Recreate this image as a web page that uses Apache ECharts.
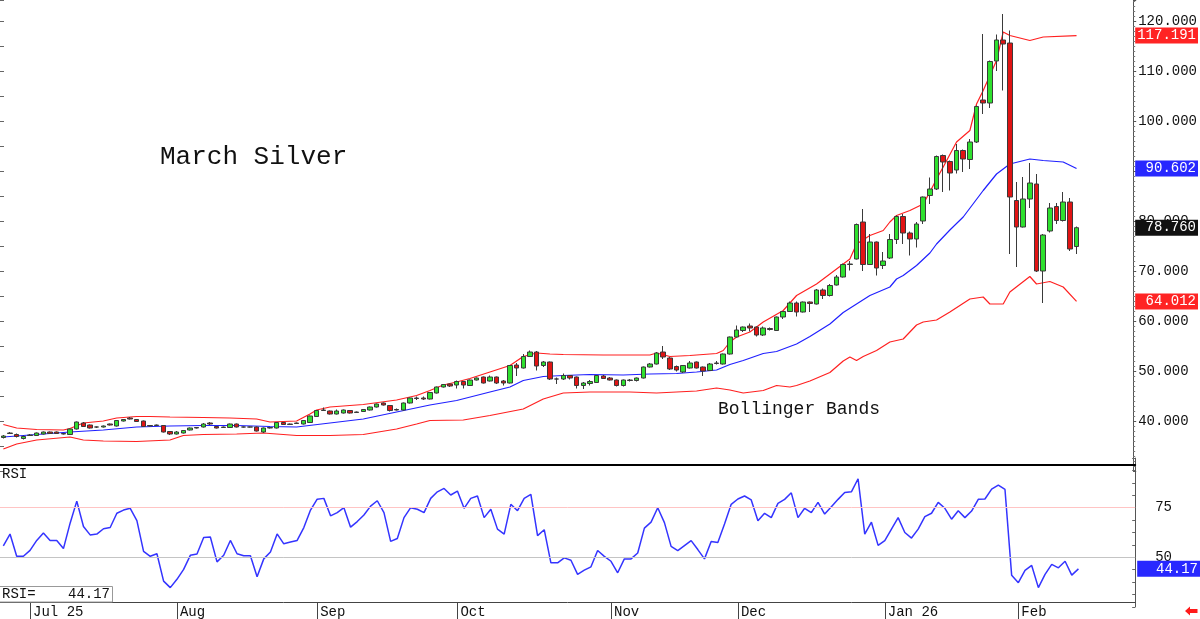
<!DOCTYPE html>
<html>
<head>
<meta charset="utf-8">
<script src="https://cdn.jsdelivr.net/npm/echarts@6/dist/echarts.min.js"></script>
<style>
html,body{margin:0;padding:0;background:#fff;}
#chart{width:1200px;height:619px;}
</style>
</head>
<body>
<div id="chart"></div>
<script>
// ---- categories (trading days) ----
const tradingDays = [
 '2025-06-25','2025-06-26','2025-06-27','2025-06-30',
 '2025-07-01','2025-07-02','2025-07-03','2025-07-07','2025-07-08','2025-07-09','2025-07-10','2025-07-11',
 '2025-07-14','2025-07-15','2025-07-16','2025-07-17','2025-07-18','2025-07-21','2025-07-22','2025-07-23',
 '2025-07-24','2025-07-25','2025-07-28','2025-07-29','2025-07-30','2025-07-31',
 '2025-08-01','2025-08-04','2025-08-05','2025-08-06','2025-08-07','2025-08-08','2025-08-11','2025-08-12',
 '2025-08-13','2025-08-14','2025-08-15','2025-08-18','2025-08-19','2025-08-20','2025-08-21','2025-08-22',
 '2025-08-25','2025-08-26','2025-08-27','2025-08-28','2025-08-29',
 '2025-09-02','2025-09-03','2025-09-04','2025-09-05','2025-09-08','2025-09-09','2025-09-10','2025-09-11',
 '2025-09-12','2025-09-15','2025-09-16','2025-09-17','2025-09-18','2025-09-19','2025-09-22','2025-09-23',
 '2025-09-24','2025-09-25','2025-09-26','2025-09-29','2025-09-30',
 '2025-10-01','2025-10-02','2025-10-03','2025-10-06','2025-10-07','2025-10-08','2025-10-09','2025-10-10',
 '2025-10-13','2025-10-14','2025-10-15','2025-10-16','2025-10-17','2025-10-20','2025-10-21','2025-10-22',
 '2025-10-23','2025-10-24','2025-10-27','2025-10-28','2025-10-29','2025-10-30','2025-10-31',
 '2025-11-03','2025-11-04','2025-11-05','2025-11-06','2025-11-07','2025-11-10','2025-11-11','2025-11-12',
 '2025-11-13','2025-11-14','2025-11-17','2025-11-18','2025-11-19','2025-11-20','2025-11-21','2025-11-24',
 '2025-11-25','2025-11-26','2025-11-28',
 '2025-12-01','2025-12-02','2025-12-03','2025-12-04','2025-12-05','2025-12-08','2025-12-09','2025-12-10',
 '2025-12-11','2025-12-12','2025-12-15','2025-12-16','2025-12-17','2025-12-18','2025-12-19','2025-12-22',
 '2025-12-23','2025-12-24','2025-12-26','2025-12-29','2025-12-30','2025-12-31',
 '2026-01-02','2026-01-05','2026-01-06','2026-01-07','2026-01-08','2026-01-09','2026-01-12','2026-01-13',
 '2026-01-14','2026-01-15','2026-01-16','2026-01-20','2026-01-21','2026-01-22','2026-01-23','2026-01-26',
 '2026-01-27','2026-01-28','2026-01-29','2026-01-30',
 '2026-02-02','2026-02-03','2026-02-04','2026-02-05','2026-02-06','2026-02-09','2026-02-10','2026-02-11',
 '2026-02-12','2026-02-13'
];
const emptySlots = ['2026-02-17','2026-02-18','2026-02-19','2026-02-20','2026-02-23','2026-02-24','2026-02-25','2026-02-26'];
const categories = tradingDays.concat(emptySlots);

// ---- month tick labels ----
const tickDates  = ['2025-07-01','2025-08-01','2025-09-02','2025-10-01','2025-11-03','2025-12-01','2026-01-02','2026-02-02'];
const tickLabels = ['Jul 25','Aug','Sep','Oct','Nov','Dec','Jan 26','Feb'];

// ---- candles: [open, close, low, high] ----
const candles = [
 [36.8,37.1,36.6,37.3],[37.6,37.7,37.5,37.9],[37.4,37.0,36.8,37.6],[36.6,37.0,36.4,37.2],
 [37.2,37.3,37.1,37.5],[37.2,37.7,37.1,37.8],[37.5,37.9,37.4,38.0],[37.9,37.6,37.5,38.0],
 [37.9,37.6,37.5,38.0],[37.6,37.5,37.4,37.7],[37.4,38.5,37.3,38.6],[38.5,39.9,38.4,40.0],
 [39.7,39.0,38.9,39.9],[39.3,38.7,38.6,39.4],[38.9,38.9,38.7,39.0],[38.9,39.1,38.8,39.2],
 [39.5,39.3,39.2,39.6],[39.1,40.2,39.0,40.3],[40.1,40.4,40.0,40.5],[40.7,40.5,40.4,40.9],
 [40.4,40.0,39.9,40.5],[40.1,39.0,38.9,40.2],[39.2,39.1,39.0,39.3],[39.2,39.3,39.1,39.4],
 [39.2,37.9,37.8,39.3],[38.0,37.5,37.3,38.1],[37.5,37.9,37.4,38.1],[37.7,38.2,37.6,38.3],
 [38.3,38.7,38.2,38.8],[38.7,38.8,38.6,38.9],[38.9,39.5,38.8,39.7],[39.7,39.5,39.3,39.9],
 [39.0,38.7,38.6,39.1],[38.8,38.9,38.7,39.0],[38.8,39.5,38.7,39.6],[39.5,38.9,38.8,39.6],
 [38.9,38.9,38.8,39.0],[38.9,38.9,38.8,39.0],[38.9,38.1,38.0,39.0],[37.9,38.7,37.7,38.8],
 [38.7,38.8,38.6,38.9],[38.7,39.8,38.6,39.9],[39.8,39.4,39.3,39.9],[39.4,39.5,39.3,39.6],
 [39.7,39.6,39.5,39.8],[39.5,40.2,39.4,40.3],[39.8,41.1,39.7,41.2],[41.0,42.2,40.9,42.3],
 [42.2,42.3,42.1,42.8],[42.1,41.5,41.4,42.2],[41.5,42.1,41.4,42.4],[41.7,42.3,41.6,42.4],
 [42.2,41.7,41.6,42.3],[41.8,41.9,41.7,42.0],[42.0,42.4,41.9,42.5],[42.3,42.9,42.2,43.0],
 [42.9,43.5,42.8,43.6],[43.7,43.3,43.2,43.8],[43.2,42.2,42.0,43.3],[42.3,42.4,42.2,42.6],
 [42.3,43.7,42.2,43.8],[43.7,44.7,43.6,44.8],[44.7,44.6,44.3,45.0],[44.7,44.5,44.3,45.0],
 [44.5,45.8,44.4,45.9],[45.7,46.9,45.6,47.0],[46.9,47.4,46.8,47.5],[47.5,47.1,46.9,47.6],
 [47.3,48.0,46.6,48.2],[48.0,47.3,46.6,48.1],[47.2,48.3,47.1,48.4],[48.3,48.7,48.2,48.8],
 [48.9,47.7,47.6,49.0],[48.1,48.9,48.0,49.2],[48.9,47.7,47.5,49.0],[48.1,47.7,47.2,48.3],
 [47.7,51.2,47.6,51.3],[51.3,50.7,49.1,51.7],[50.7,53.0,50.6,53.5],[53.0,53.9,52.9,54.2],
 [53.9,51.1,50.2,54.1],[51.2,51.9,50.9,52.1],[51.9,48.5,48.3,52.0],[48.5,48.5,47.5,48.8],
 [48.5,49.2,48.3,49.6],[49.2,48.7,48.4,49.3],[48.9,47.2,46.6,49.0],[47.2,47.7,46.5,47.9],
 [47.6,48.0,47.2,48.3],[47.8,49.2,47.7,49.3],[49.1,48.6,48.5,49.3],[48.7,48.3,48.2,48.9],
 [48.3,47.2,47.0,48.4],[47.2,48.3,47.0,48.4],[48.3,48.2,48.0,48.5],[48.2,48.7,48.0,48.8],
 [48.7,50.9,48.6,51.0],[50.9,51.5,50.8,51.7],[51.5,53.7,51.4,53.9],[53.9,52.9,52.5,55.1],
 [52.7,50.5,50.3,52.9],[51.0,50.3,50.0,51.2],[49.9,51.2,49.7,51.3],[50.7,51.7,50.6,52.1],
 [51.9,50.7,50.6,52.0],[50.9,50.1,49.1,51.0],[50.2,51.5,50.1,51.7],[51.7,51.6,51.4,52.1],
 [51.5,53.5,51.4,53.6],[53.5,56.9,53.4,57.0],[56.9,58.3,56.8,59.2],[58.2,58.9,57.9,59.0],
 [59.1,58.7,58.0,59.6],[58.9,57.3,57.0,59.0],[57.3,58.7,57.1,59.0],[58.6,58.4,58.2,58.8],
 [58.2,60.9,58.1,61.0],[60.9,62.0,60.5,62.1],[62.0,63.7,61.9,64.0],[63.7,61.9,61.0,64.0],
 [61.9,63.9,61.8,64.0],[63.9,63.6,61.9,64.0],[63.5,66.3,63.4,66.5],[66.3,65.2,64.5,66.6],
 [65.2,67.2,65.0,67.5],[67.3,68.9,67.2,69.3],[68.9,71.4,68.8,71.6],[71.4,71.5,70.2,72.1],
 [72.5,79.4,72.4,79.6],[79.9,71.4,70.1,82.5],[71.4,75.9,71.3,77.5],[75.9,70.7,69.2,76.0],
 [71.2,72.1,70.5,73.9],[72.7,76.4,72.5,77.5],[76.4,81.0,75.5,81.2],[81.0,77.7,75.5,81.5],
 [77.7,76.5,73.2,78.0],[76.5,79.5,74.8,79.9],[80.1,84.9,79.5,85.0],[85.2,86.5,83.5,88.8],
 [86.5,93.0,86.3,93.2],[93.2,91.9,85.9,93.4],[92.0,89.7,86.2,92.2],[90.3,94.2,89.6,95.5],
 [94.2,92.5,89.9,94.4],[92.4,95.9,90.5,96.5],[95.9,103.0,95.7,103.2],[104.3,103.7,101.5,117.5],
 [103.7,112.0,102.7,112.2],[112.1,116.3,110.1,117.4],[116.3,115.5,106.2,121.5],[115.7,84.9,73.5,118.2],
 [84.2,78.9,70.9,87.9],[78.9,84.5,78.8,88.9],[84.5,87.7,82.7,91.7],[87.5,70.1,69.9,89.5],
 [70.1,77.3,63.7,77.5],[78.1,82.7,77.8,83.7],[83.0,80.2,79.5,83.7],[80.2,83.9,80.0,85.9],
 [83.9,74.5,74.1,84.7],[75.0,78.76,73.5,79.0]
];

// ---- Bollinger bands: [bar index, value] ----
const upperBand = [
 [0,39.4],[2,38.7],[5,38.4],[9,38.3],[10,38.6],[12,39.7],[15,40.1],[17,40.7],[20,41.0],[22,41.0],
 [25,40.9],[30,40.8],[34,40.7],[38,40.5],[40,39.9],[44,40.1],[46,41.5],[47,42.3],[49,42.9],[54,43.4],
 [59,44.3],[62,45.2],[64,46.2],[66,47.3],[68,47.9],[70,48.6],[73,49.9],[76,51.2],[78,53.0],[80,53.7],
 [82,53.5],[84,53.4],[90,53.3],[97,53.3],[98,53.7],[100,53.0],[103,53.2],[105,53.4],[107,53.6],[108,54.2],
 [109,55.9],[110,56.9],[112,57.9],[114,59.9],[117,62.2],[119,65.2],[122,67.5],[124,69.5],[126,71.5],[127,72.5],
 [128,75.5],[130,77.2],[132,78.2],[133,79.9],[134,81.2],[136,82.2],[138,83.5],[139,85.9],[140,88.5],[141,90.9],
 [143,95.9],[145,98.2],[146,103.5],[147,106.2],[149,112.2],[150,117.9],[151,117.2],[154,116.2],[156,116.9],[161,117.191]
];
const middleBand = [
 [0,36.9],[5,37.4],[10,37.9],[15,38.3],[20,38.9],[25,39.1],[30,39.2],[35,39.2],[40,39.0],[44,38.9],
 [49,39.7],[54,40.5],[59,41.9],[64,43.3],[68,44.2],[73,45.9],[76,46.9],[78,48.2],[81,49.0],[84,49.2],
 [88,49.4],[93,49.3],[97,49.5],[101,49.6],[104,49.9],[107,50.3],[109,51.4],[111,52.2],[114,53.6],[116,54.0],
 [119,55.5],[121,57.0],[124,59.5],[126,61.8],[128,63.5],[130,65.2],[133,66.9],[134,68.5],[135,69.2],[137,71.2],
 [139,73.7],[140,75.5],[142,78.3],[144,80.9],[147,86.2],[149,89.5],[150,90.5],[151,91.5],[154,92.5],[156,92.2],
 [159,91.9],[161,90.602]
];
const lowerBand = [
 [0,34.5],[2,35.5],[5,36.3],[10,36.9],[12,36.3],[15,36.1],[20,36.0],[25,36.3],[27,37.2],[30,37.4],
 [35,37.5],[39,37.7],[44,37.2],[49,37.2],[54,37.4],[59,38.5],[62,39.5],[64,40.2],[69,40.3],[73,41.2],
 [78,42.5],[81,44.5],[84,45.7],[88,45.9],[94,45.9],[98,45.7],[101,45.9],[104,46.1],[107,46.7],[109,46.3],
 [111,45.7],[114,46.2],[116,47.2],[118,46.9],[119,47.2],[121,48.1],[124,49.8],[126,52.1],[127,52.9],[128,52.2],
 [129,53.0],[131,54.2],[133,55.9],[135,56.5],[137,59.3],[138,59.9],[140,60.3],[142,61.9],[145,64.5],[147,64.9],
 [148,63.5],[150,63.5],[151,65.9],[154,69.0],[155,67.5],[157,68.0],[159,66.9],[161,64.012]
];

// ---- RSI per bar ----
const rsi = [
 55.8,61.7,50.5,50.5,53.5,58.5,62.2,58.5,58.5,54.4,67.2,78.3,65.5,61.3,61.7,64.4,65.0,72.2,73.8,74.7,
 68.5,53.0,50.5,51.8,38.0,34.7,38.9,43.9,51.0,51.7,60.0,60.2,47.7,51.0,58.5,51.8,50.8,50.8,40.2,49.2,
 52.7,61.8,56.8,57.7,58.5,65.0,73.8,79.3,79.7,70.9,72.5,75.0,65.2,68.0,71.3,75.8,78.5,72.5,58.0,59.5,
 70.0,75.0,74.2,72.5,79.7,83.0,84.7,81.4,83.4,74.7,79.7,80.9,70.0,74.2,64.2,61.7,76.7,73.5,79.7,81.7,
 60.9,63.9,47.2,47.2,49.7,48.5,41.4,43.5,45.2,53.4,50.5,48.0,42.2,49.2,49.2,52.2,64.7,67.7,75.0,67.5,
 55.5,53.4,55.9,58.4,53.9,49.2,58.0,57.5,66.8,76.7,79.4,80.9,78.9,68.4,72.2,70.0,77.2,79.2,82.5,70.0,
 74.7,72.5,77.7,71.8,75.5,79.2,82.7,83.0,89.6,61.7,67.7,56.0,58.4,64.2,70.0,62.5,59.7,64.2,70.5,72.2,
 77.7,74.7,69.2,73.5,70.0,73.3,79.2,79.4,84.4,86.4,84.2,40.9,37.2,43.4,45.9,34.7,41.4,46.4,44.7,48.0,
 41.0,44.17
];

const FONT = 'Liberation Mono';
const isTick = function (idx, val) { return tickDates.indexOf(val) >= 0; };
const tickFmt = function (val) { const k = tickDates.indexOf(val); return k >= 0 ? tickLabels[k] : ''; };
const pad7 = function (s) { while (s.length < 7) s = ' ' + s; return s; };

function valueBox(v, digits, bg) {
  return {
    silent: true,
    symbol: ['none', 'none'],
    lineStyle: { color: 'rgba(0,0,0,0)', width: 0 },
    emphasis: { disabled: true },
    label: {
      show: true, position: 'end', distance: 2,
      formatter: function () { return pad7(v.toFixed(digits)); },
      backgroundColor: bg, color: '#fff', fontFamily: FONT, fontSize: 14,
      padding: [1, 2, 0, 2], lineHeight: 15
    },
    data: [{ yAxis: v }]
  };
}

const lastUpper = upperBand[upperBand.length - 1][1];
const lastMid = middleBand[middleBand.length - 1][1];
const lastLower = lowerBand[lowerBand.length - 1][1];
const lastClose = candles[candles.length - 1][1];
const lastRsi = rsi[rsi.length - 1];

const chart = echarts.init(document.getElementById('chart'));
chart.setOption({
  animation: false,
  backgroundColor: '#fff',
  grid: [
    { left: 0, right: 64.8, top: 0, height: 471.5 },
    { left: 0, right: 64.8, top: 458.1, height: 148.8 }
  ],
  xAxis: [
    { type: 'category', gridIndex: 0, data: categories, boundaryGap: true, show: false },
    { type: 'category', gridIndex: 1, data: categories, boundaryGap: true, position: 'bottom', offset: -4.9,
      axisLine: { show: true, lineStyle: { color: '#444', width: 1 } },
      axisTick: { show: true, alignWithLabel: true, interval: isTick, length: 17, lineStyle: { color: '#444' } },
      axisLabel: { show: true, interval: isTick, formatter: tickFmt, align: 'left', padding: [0, 0, 0, 3], margin: 3,
        fontFamily: FONT, fontSize: 14, color: '#111' },
      splitLine: { show: false } },
    { type: 'category', gridIndex: 1, data: categories, boundaryGap: true, position: 'top', offset: -6.9,
      axisLine: { show: true, lineStyle: { color: '#000', width: 2 } },
      axisTick: { show: false }, axisLabel: { show: false }, splitLine: { show: false } }
  ],
  yAxis: [
    { type: 'value', gridIndex: 0, position: 'right', min: 30, max: 124.3, interval: 10,
      axisLine: { show: true, lineStyle: { color: '#555' } },
      axisTick: { show: true, length: 3, lineStyle: { color: '#555' } },
      minorTick: { show: true, splitNumber: 10, length: 2, lineStyle: { color: '#777' } },
      splitLine: { show: false },
      axisLabel: { margin: 5, fontFamily: FONT, fontSize: 14, color: '#111', showMaxLabel: false,
        formatter: function (v) { return (v >= 40 && v <= 120) ? v.toFixed(3) : ''; } } },
    { type: 'value', gridIndex: 0, position: 'left', min: 30, max: 124.3, interval: 5,
      axisLine: { show: false },
      axisTick: { show: true, inside: true, length: 4, lineStyle: { color: '#666' } },
      axisLabel: { show: false }, splitLine: { show: false } },
    { type: 'value', gridIndex: 1, position: 'right', min: 25, max: 100, interval: 25,
      axisLine: { show: true, lineStyle: { color: '#555' } },
      axisTick: { show: true, inside: true, length: 3, lineStyle: { color: '#666' } },
      minorTick: { show: true, splitNumber: 4, length: 3, lineStyle: { color: '#666' } },
      splitLine: { show: false },
      axisLabel: { margin: 20, fontFamily: FONT, fontSize: 14, color: '#111',
        formatter: function (v) { return (v === 50 || v === 75) ? String(v) : ''; } } }
  ],
  series: [
    { type: 'line', name: 'upper', xAxisIndex: 0, yAxisIndex: 0, data: upperBand, showSymbol: false, silent: true,
      lineStyle: { color: '#ff2020', width: 1.2 }, z: 3, markLine: valueBox(lastUpper, 3, '#ff2424') },
    { type: 'line', name: 'middle', xAxisIndex: 0, yAxisIndex: 0, data: middleBand, showSymbol: false, silent: true,
      lineStyle: { color: '#2020ff', width: 1.2 }, z: 3, markLine: valueBox(lastMid, 3, '#2828ff') },
    { type: 'line', name: 'lower', xAxisIndex: 0, yAxisIndex: 0, data: lowerBand, showSymbol: false, silent: true,
      lineStyle: { color: '#ff2020', width: 1.2 }, z: 3, markLine: valueBox(lastLower, 3, '#ff2424') },
    { type: 'candlestick', name: 'March Silver', xAxisIndex: 0, yAxisIndex: 0, data: candles, barWidth: 5, silent: true,
      itemStyle: { color: '#2fe02f', color0: '#e01414', borderColor: '#3a3a3a', borderColor0: '#3a3a3a', borderWidth: 1 },
      z: 4, markLine: valueBox(lastClose, 3, '#111') },
    { type: 'line', name: 'RSI', xAxisIndex: 1, yAxisIndex: 2, data: rsi, showSymbol: false, silent: true,
      lineStyle: { color: '#3434ff', width: 1.5 }, z: 4,
      markLine: {
        silent: true, symbol: ['none', 'none'], emphasis: { disabled: true },
        label: { show: false },
        data: [
          { yAxis: 75, lineStyle: { color: '#ffc4c4', width: 1, type: 'solid' } },
          { yAxis: 50, lineStyle: { color: '#c4c4c4', width: 1, type: 'solid' } }
        ]
      } },
    { type: 'line', name: 'RSIbox', xAxisIndex: 1, yAxisIndex: 2, data: [], silent: true,
      markLine: valueBox(lastRsi, 2, '#2828ff') }
  ],
  graphic: [
    { type: 'text', x: 160, y: 157, z: 10,
      style: { text: 'March Silver', font: '26px "Liberation Mono"', fill: '#111',
        verticalAlign: 'middle', textVerticalAlign: 'middle' } },
    { type: 'text', x: 718, y: 409, z: 10,
      style: { text: 'Bollinger Bands', font: '18px "Liberation Mono"', fill: '#111',
        verticalAlign: 'middle', textVerticalAlign: 'middle' } },
    { type: 'text', x: 2, y: 474, z: 10,
      style: { text: 'RSI', font: '14px "Liberation Mono"', fill: '#111',
        verticalAlign: 'middle', textVerticalAlign: 'middle' } },
    { type: 'rect', z: 10, shape: { x: -1, y: 586.5, width: 113.5, height: 15.5 },
      style: { fill: '#fff', stroke: '#999', lineWidth: 1 } },
    { type: 'text', x: 2, y: 594.5, z: 11,
      style: { text: 'RSI=', font: '14px "Liberation Mono"', fill: '#111',
        verticalAlign: 'middle', textVerticalAlign: 'middle' } },
    { type: 'text', x: 110, y: 594.5, z: 11,
      style: { text: lastRsi.toFixed(2), font: '14px "Liberation Mono"', fill: '#111',
        align: 'right', textAlign: 'right', verticalAlign: 'middle', textVerticalAlign: 'middle' } },
    { type: 'polygon', z: 10,
      shape: { points: [[1185, 611], [1190, 606.5], [1190, 609], [1197.5, 609], [1197.5, 613], [1190, 613], [1190, 615.5]] },
      style: { fill: '#ff1a1a' } }
  ]
});
</script>
</body>
</html>
